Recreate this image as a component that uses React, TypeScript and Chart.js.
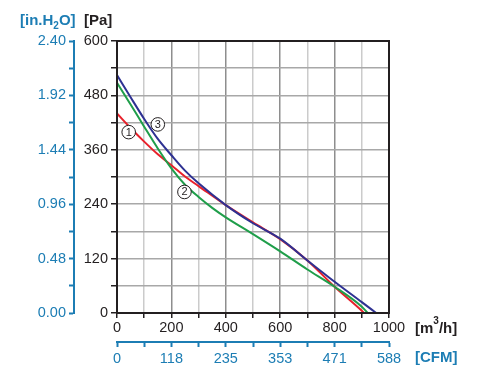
import React, { useEffect, useRef } from "react";
import { Chart, registerables } from "chart.js";

Chart.register(...registerables);

// Curve 1 (red)
const flow1 = [0, 50, 100, 150, 200, 250, 300, 400, 500, 600, 700, 800, 900, 908];
const pressure1 = [440, 408, 378, 350, 326, 301, 280, 238, 200, 163, 116, 58, 5, 0];
// Curve 2 (green)
const flow2 = [0, 50, 100, 150, 200, 250, 300, 350, 400, 500, 600, 700, 800, 900, 922];
const pressure2 = [508, 460, 411, 363, 319, 283, 256, 232, 211, 174, 136, 96, 58, 14, 0];
// Curve 3 (blue)
const flow3 = [0, 50, 100, 150, 200, 250, 300, 400, 500, 600, 700, 800, 900, 953];
const pressure3 = [525, 476, 428, 384, 348, 314, 286, 238, 198, 164, 116, 69, 24, 0];

const cfmLabels = ["0", "118", "235", "353", "471", "588"];
const inH2OLabels = ["0.00", "0.48", "0.96", "1.44", "1.92", "2.40"];

const tagTexts = ["1", "2", "3"];
const tagFlow = [43, 248, 150];
const tagPressure = [399, 267, 416];

const BLUE_AXIS = "#1c7db4";
const INK = "#231f20";
const FONT = "'Liberation Sans', Arial, sans-serif";

function pts(xs: number[], ys: number[]) {
  return xs.map((x, i) => ({ x, y: ys[i] }));
}

const decor = {
  id: "decor",
  afterDatasetsDraw(chart: any) {
    const { ctx } = chart;
    const xs = chart.scales.x;
    const ys = chart.scales.y;
    ctx.save();
    tagTexts.forEach((t, i) => {
      const px = xs.getPixelForValue(tagFlow[i]);
      const py = ys.getPixelForValue(tagPressure[i]);
      ctx.beginPath();
      ctx.arc(px, py, 6.8, 0, Math.PI * 2);
      ctx.fillStyle = "#ffffff";
      ctx.fill();
      ctx.lineWidth = 1;
      ctx.strokeStyle = INK;
      ctx.stroke();
      ctx.fillStyle = INK;
      ctx.font = `11px ${FONT}`;
      ctx.textAlign = "center";
      ctx.textBaseline = "middle";
      ctx.fillText(t, px, py + 0.5);
    });
    ctx.restore();
  },
  afterDraw(chart: any) {
    const { ctx, chartArea: a } = chart;
    ctx.save();
    ctx.strokeStyle = INK;
    ctx.lineWidth = 2;
    ctx.strokeRect(a.left, a.top, a.right - a.left, a.bottom - a.top);

    ctx.textAlign = "left";
    ctx.textBaseline = "alphabetic";
    // [in.H2O]
    const big = `bold 15px ${FONT}`;
    const small = `bold 10px ${FONT}`;
    let x = 20;
    const by = 25;
    ctx.fillStyle = BLUE_AXIS;
    ctx.font = big;
    ctx.fillText("[in.H", x, by);
    x += ctx.measureText("[in.H").width;
    ctx.font = small;
    ctx.fillText("2", x, by + 4);
    x += ctx.measureText("2").width;
    ctx.font = big;
    ctx.fillText("O]", x, by);
    // [Pa]
    ctx.fillStyle = INK;
    ctx.fillText("[Pa]", 84, by);

    // [m3/h]
    let ux = a.right + 26;
    const uy = 333;
    ctx.fillStyle = INK;
    ctx.font = big;
    ctx.fillText("[m", ux, uy);
    ux += ctx.measureText("[m").width;
    ctx.font = small;
    ctx.fillText("3", ux, uy - 9);
    ux += ctx.measureText("3").width;
    ctx.font = big;
    ctx.fillText("/h]", ux, uy);

    // [CFM]
    ctx.fillStyle = BLUE_AXIS;
    ctx.fillText("[CFM]", a.right + 26, 362);
    ctx.restore();
  },
};

export default function App() {
  const ref = useRef<HTMLCanvasElement>(null);

  useEffect(() => {
    Chart.defaults.font.family = FONT;
    const chart = new Chart(ref.current as HTMLCanvasElement, {
      type: "line",
      data: {
        datasets: [
          {
            label: "2",
            data: pts(flow2, pressure2),
            borderColor: "#1f9e4a",
            borderWidth: 2,
            pointRadius: 0,
            cubicInterpolationMode: "monotone",
            xAxisID: "x",
            yAxisID: "y",
          },
          {
            label: "3",
            data: pts(flow3, pressure3),
            borderColor: "#2e3192",
            borderWidth: 2,
            pointRadius: 0,
            cubicInterpolationMode: "monotone",
            xAxisID: "x",
            yAxisID: "y",
          },
          {
            label: "1",
            data: pts(flow1, pressure1),
            borderColor: "#e8202a",
            borderWidth: 2,
            pointRadius: 0,
            cubicInterpolationMode: "monotone",
            xAxisID: "x",
            yAxisID: "y",
          },
        ],
      },
      options: {
        responsive: false,
        animation: false,
        devicePixelRatio: 1,
        layout: { padding: { top: 41, right: 88, left: 0, bottom: 0 } },
        plugins: { legend: { display: false }, tooltip: { enabled: false } },
        scales: {
          x: {
            type: "linear",
            position: "bottom",
            weight: 0,
            min: 0,
            max: 1000,
            ticks: {
              stepSize: 100,
              autoSkip: false,
              maxRotation: 0,
              color: INK,
              padding: 1,
              font: { size: 14.5 },
              callback: (v: any) => (v % 200 === 0 ? String(v) : ""),
            },
            grid: {
              color: (c: any) =>
                c.tick && c.tick.value % 200 === 0 ? "#8e8e8e" : "#cbcbcb",
              lineWidth: 1.5,
              tickColor: INK,
              tickLength: 5,
              tickWidth: 1.5,
            },
            border: { color: INK, width: 2 },
            afterFit: (s: any) => {
              s.height = 29;
            },
          },
          x2: {
            type: "linear",
            position: "bottom",
            weight: 10,
            min: 0,
            max: 1000,
            ticks: {
              stepSize: 100,
              autoSkip: false,
              maxRotation: 0,
              color: BLUE_AXIS,
              padding: 3,
              font: { size: 14.5 },
              callback: (v: any) => (v % 200 === 0 ? cfmLabels[v / 200] : ""),
            },
            grid: {
              drawOnChartArea: false,
              tickColor: BLUE_AXIS,
              tickLength: 5,
              tickWidth: 2,
            },
            border: { color: BLUE_AXIS, width: 2 },
            afterFit: (s: any) => {
              s.height = 35;
            },
          },
          y: {
            type: "linear",
            position: "left",
            weight: 0,
            min: 0,
            max: 600,
            ticks: {
              stepSize: 60,
              autoSkip: false,
              color: INK,
              padding: 3,
              font: { size: 14.5 },
              callback: (v: any) => (v % 120 === 0 ? String(v) : ""),
            },
            grid: {
              color: "#a8a8a8",
              lineWidth: 1.5,
              tickColor: INK,
              tickLength: 6,
              tickWidth: 1.5,
            },
            border: { color: INK, width: 2 },
            afterFit: (s: any) => {
              s.width = 43;
            },
          },
          y2: {
            type: "linear",
            position: "left",
            weight: 10,
            min: 0,
            max: 600,
            ticks: {
              stepSize: 60,
              autoSkip: false,
              color: BLUE_AXIS,
              padding: 3,
              font: { size: 14.5 },
              callback: (v: any) => (v % 120 === 0 ? inH2OLabels[v / 120] : ""),
            },
            grid: {
              drawOnChartArea: false,
              tickColor: BLUE_AXIS,
              tickLength: 5,
              tickWidth: 2,
            },
            border: { color: BLUE_AXIS, width: 2 },
            afterFit: (s: any) => {
              s.width = 74;
            },
          },
        },
      } as any,
      plugins: [decor],
    });
    return () => chart.destroy();
  }, []);

  return (
    <div style={{ position: "fixed", left: 0, top: 0, width: 477, height: 377, background: "#fff" }}>
      <canvas ref={ref} width={477} height={377} style={{ display: "block" }} />
    </div>
  );
}
